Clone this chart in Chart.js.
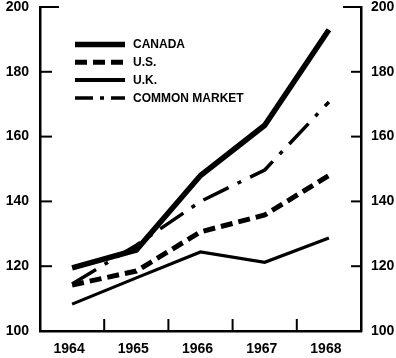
<!DOCTYPE html>
<html>
<head>
<meta charset="utf-8">
<script src="https://cdn.jsdelivr.net/npm/chart.js@4"></script>
<style>
  html, body { margin: 0; padding: 0; background: #fff; }
  #wrap { width: 396px; height: 358px; }
</style>
</head>
<body>
<div id="wrap"><canvas id="indexChart"></canvas></div>
<script>
// Index values 1964-1968
const years = ['1964', '1965', '1966', '1967', '1968'];
const canada = [119.5, 125, 148, 163.5, 193];
const us = [114.2, 118.5, 130.6, 135.8, 148];
const uk = [108.3, 116.4, 124.4, 121.2, 128.7];
const commonMarket = [114.5, 126.5, 140, 149.7, 170.7];
const yTicks = [100, 120, 140, 160, 180, 200];

const FONT = "'Liberation Sans', Arial, sans-serif";

// short tick marks pointing into the plot, like the printed original
const insideTicks = {
  id: 'insideTicks',
  afterDraw(chart) {
    const { ctx, chartArea: a, scales } = chart;
    ctx.save();
    ctx.strokeStyle = '#000';
    ctx.lineWidth = 2;
    scales.y.ticks.forEach(t => {
      const py = scales.y.getPixelForValue(t.value);
      ctx.beginPath();
      ctx.moveTo(a.left, py);
      ctx.lineTo(a.left + (t.value === 200 ? 19 : 12), py);
      ctx.stroke();
    });
    scales.y2.ticks.forEach(t => {
      const py = scales.y2.getPixelForValue(t.value);
      ctx.beginPath();
      ctx.moveTo(a.right, py);
      ctx.lineTo(a.right - (t.value === 200 ? 18 : 10), py);
      ctx.stroke();
    });
    for (let i = 0; i < years.length - 1; i++) {
      const px = scales.x.getPixelForValue(i + 0.5);
      ctx.beginPath();
      ctx.moveTo(px, a.bottom);
      ctx.lineTo(px, a.bottom - 12);
      ctx.stroke();
    }
    ctx.restore();
  }
};

// legend drawn as line samples inside the plot area
const lineLegend = {
  id: 'lineLegend',
  afterDraw(chart) {
    const { ctx, chartArea: a } = chart;
    ctx.save();
    ctx.font = 'bold 12px ' + FONT;
    ctx.textBaseline = 'middle';
    ctx.fillStyle = '#000';
    chart.data.datasets.forEach((ds, i) => {
      const y = a.top + 37.5 + i * 17.8;
      ctx.strokeStyle = '#000';
      ctx.lineWidth = ds.legendWidth;
      ctx.setLineDash(ds.legendDash || ds.borderDash || []);
      ctx.beginPath();
      ctx.moveTo(a.left + 35, y);
      ctx.lineTo(a.left + 85, y);
      ctx.stroke();
      ctx.setLineDash([]);
      ctx.fillText(ds.label, a.left + 93, y + 0.5);
    });
    ctx.restore();
  }
};

const vertFit = width => scale => {
  scale.width = width;
  scale.paddingTop = 7;
  scale.paddingBottom = 0;
};

const ctx = document.getElementById('indexChart').getContext('2d');
new Chart(ctx, {
  type: 'line',
  data: {
    labels: years,
    datasets: [
      {
        label: 'CANADA',
        data: canada,
        borderColor: '#000',
        borderWidth: 5.5,
        legendWidth: 5.5
      },
      {
        label: 'U.S.',
        data: us,
        borderColor: '#000',
        borderWidth: 5,
        borderDash: [12, 6],
        legendWidth: 5
      },
      {
        label: 'U.K.',
        data: uk,
        borderColor: '#000',
        borderWidth: 3.2,
        legendWidth: 4
      },
      {
        label: 'COMMON MARKET',
        data: commonMarket,
        borderColor: '#000',
        borderWidth: 3.5,
        borderDash: [28, 10, 4, 10],
        legendWidth: 3.5,
        legendDash: [18, 7, 4, 7]
      }
    ]
  },
  options: {
    responsive: true,
    maintainAspectRatio: false,
    animation: false,
    layout: { padding: 0 },
    elements: {
      point: { radius: 0, hoverRadius: 0 },
      line: { tension: 0, borderCapStyle: 'butt', borderJoinStyle: 'miter' }
    },
    plugins: {
      legend: { display: false },
      tooltip: { enabled: false }
    },
    scales: {
      x: {
        type: 'category',
        offset: true,
        grid: { display: false, drawTicks: false },
        border: { color: '#000', width: 2.5 },
        ticks: {
          color: '#000',
          padding: 10,
          labelOffset: -3,
          font: { family: FONT, size: 14, weight: 'bold' }
        },
        afterFit(scale) {
          scale.height = 27;
          scale.paddingLeft = 0;
          scale.paddingRight = 0;
        }
      },
      y: {
        position: 'left',
        min: 100,
        max: 200,
        afterBuildTicks(scale) { scale.ticks = yTicks.map(v => ({ value: v })); },
        grid: { display: false, drawTicks: false },
        border: { color: '#000', width: 2.5 },
        ticks: {
          color: '#000',
          padding: 11,
          font: { family: FONT, size: 14, weight: 'bold' }
        },
        afterFit: vertFit(40)
      },
      y2: {
        position: 'right',
        min: 100,
        max: 200,
        afterBuildTicks(scale) { scale.ticks = yTicks.map(v => ({ value: v })); },
        grid: { display: false, drawTicks: false },
        border: { color: '#000', width: 2.5 },
        ticks: {
          color: '#000',
          padding: 10,
          font: { family: FONT, size: 14, weight: 'bold' }
        },
        afterFit: vertFit(35)
      }
    }
  },
  plugins: [insideTicks, lineLegend]
});
</script>
</body>
</html>
